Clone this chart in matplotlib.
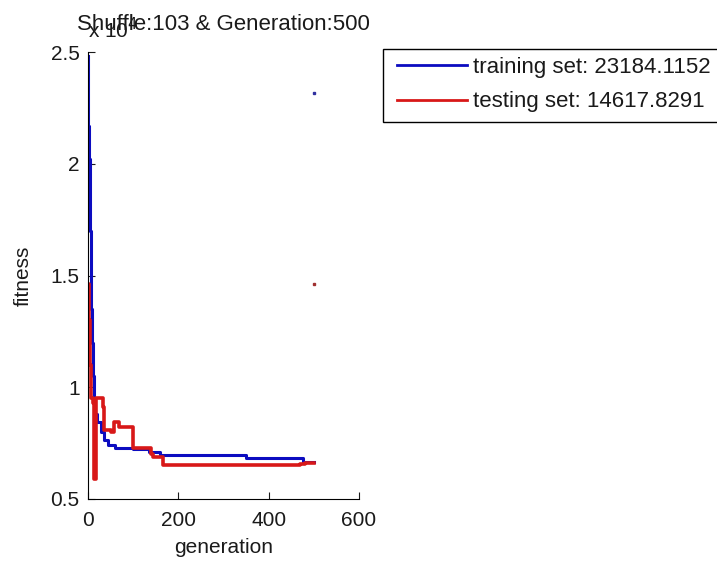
import matplotlib
matplotlib.use("Agg")
import matplotlib.pyplot as plt
from matplotlib.patches import Rectangle

plt.rcParams['font.family'] = ['Liberation Sans', 'DejaVu Sans']

# best fitness per generation (step changes only), values in raw units
train_gen = [0, 1, 2, 4, 6, 8, 10, 13, 16, 20, 28, 35, 45, 60, 100, 135, 160, 350, 475, 500]
train_fit = [24800, 21700, 20200, 17000, 13500, 12000, 10500, 9500, 8800, 8450,
             8000, 7640, 7400, 7300, 7250, 7100, 6970, 6830, 6650, 6650]

test_gen = [0, 2, 4, 6, 12, 14, 17, 33, 35, 52, 58, 68, 100, 140, 145, 165, 470, 480, 500]
test_fit = [14600, 13000, 11000, 9500, 9300, 5900, 9500, 9100, 8100, 8000,
            8450, 8200, 7300, 7000, 6900, 6520, 6580, 6600, 6600]

train_label = 'training set: 23184.1152'
test_label = 'testing set: 14617.8291'
train_mark = 23184.1152
test_mark = 14617.8291
last_gen = 500

scale = 1e4
W, H = 717, 566

fig = plt.figure(figsize=(W / 100, H / 100), dpi=100)
ax = fig.add_axes([88 / W, 1 - 499 / H, (359 - 88) / W, (499 - 52) / H])

blue = '#0c0cc0'
red = '#d81818'
l1, = ax.plot(train_gen, [v / scale for v in train_fit], color=blue, lw=2.2,
              drawstyle='steps-post')
l2, = ax.plot(test_gen, [v / scale for v in test_fit], color=red, lw=2.6,
              drawstyle='steps-post')
ax.plot([last_gen], [train_mark / scale], 's', color='#3030a0', ms=1.5)
ax.plot([last_gen], [test_mark / scale], 's', color='#a03030', ms=1.5)

ax.set_xlim(0, 600)
ax.set_ylim(0.5, 2.5)
ax.set_xticks([0, 200, 400, 600])
ax.set_yticks([0.5, 1, 1.5, 2, 2.5])
ax.set_yticklabels(['0.5', '1', '1.5', '2', '2.5'])
ax.spines['top'].set_visible(False)
ax.spines['right'].set_visible(False)
ax.tick_params(direction='in', length=5, labelsize=15, colors='#1a1a1a')
ax.tick_params(axis='x', pad=8.5)
ax.tick_params(axis='y', pad=6)
ax.set_xlabel('generation', fontsize=15, labelpad=6, color='#1a1a1a')
ax.set_ylabel('fitness', fontsize=15, labelpad=13, color='#1a1a1a')
ax.set_title('Shuffle:103 & Generation:500', fontsize=16, pad=16, color='#1a1a1a')

fig.text(88 / W, 1 - 38 / H, 'x 10$^4$', fontsize=15, ha='left', va='baseline',
         color='#1a1a1a')

# legend box (runs off the right edge like the original)
fig.patches.append(Rectangle((383 / W, 1 - 122 / H), 400 / W, 73 / H,
                             transform=fig.transFigure, facecolor='white',
                             edgecolor='black', lw=1.0, zorder=2))
leg = fig.legend([l1, l2], [train_label, test_label], loc='upper left',
                 bbox_to_anchor=(397 / W, 1 - 57 / H), fontsize=16,
                 frameon=False, handlelength=3.15, handletextpad=0.25,
                 borderpad=0, labelspacing=0.6, borderaxespad=0)
leg.set_zorder(3)
for t in leg.get_texts():
    t.set_color('#1a1a1a')
for h in leg.get_lines():
    h.set_linewidth(2.0)

fig.savefig('out.png', dpi=100)
